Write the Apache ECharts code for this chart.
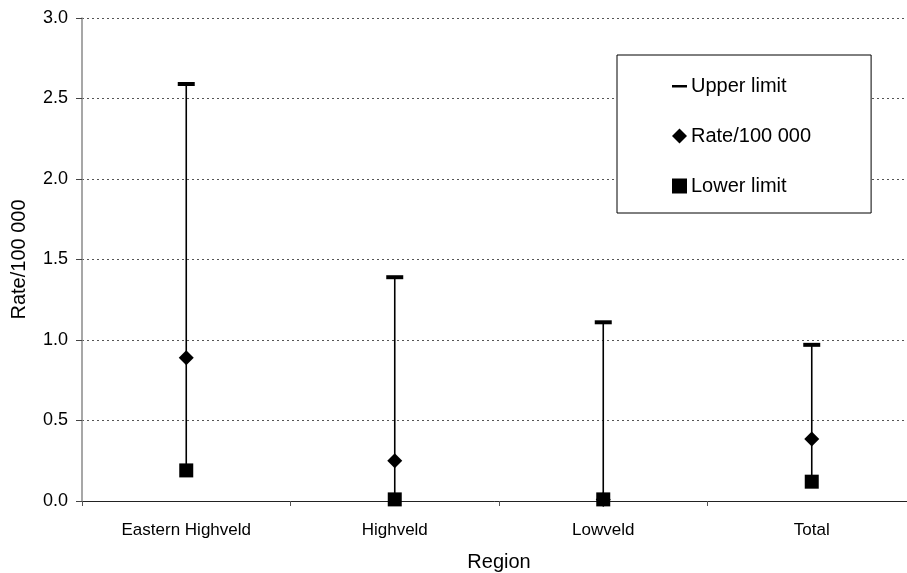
<!DOCTYPE html>
<html>
<head>
<meta charset="utf-8">
<script src="https://cdn.jsdelivr.net/npm/echarts@6/dist/echarts.min.js"></script>
<style>
  html, body { margin: 0; padding: 0; background: #fff; }
  #chart { width: 907px; height: 573px; }
</style>
</head>
<body>
<div id="chart"></div>
<script>
// Incidence rate per 100 000 with confidence limits, by region
const regions = ['Eastern Highveld', 'Highveld', 'Lowveld', 'Total'];
const upperLimit = [2.59, 1.39, 1.11, 0.97];
const rate = [0.89, 0.25, 0.01, 0.385];
const lowerLimit = [0.19, 0.01, 0.01, 0.12];
const yTicks = [0, 0.5, 1.0, 1.5, 2.0, 2.5, 3.0];

const FONT = '"Liberation Sans", Arial, sans-serif';

const chart = echarts.init(document.getElementById('chart'), null, { renderer: 'canvas' });

// high-low line from lower to upper limit for each region
const rangeData = regions.map((r, i) => [i, lowerLimit[i], upperLimit[i]]);

chart.setOption({
  backgroundColor: '#ffffff',
  animation: false,
  grid: { left: 82, top: 18, width: 834, height: 483, containLabel: false, outerBoundsMode: 'none' },
  legend: {
    orient: 'vertical',
    left: 617,
    top: 55,
    padding: [21, 60, 17, 55],
    itemGap: 30,
    itemWidth: 15,
    itemHeight: 15,
    borderColor: '#000',
    borderWidth: 1,
    backgroundColor: '#fff',
    selectedMode: false,
    textStyle: { fontFamily: FONT, fontSize: 20, color: '#000', padding: [0, 0, 0, -1] },
    data: [
      { name: 'Upper limit', icon: 'path://M0,0 M0,6.5 L15,6.5 L15,9 L0,9 Z M15,15' },
      { name: 'Rate/100 000', icon: 'diamond' },
      { name: 'Lower limit', icon: 'rect' }
    ]
  },
  xAxis: {
    type: 'category',
    data: regions,
    boundaryGap: true,
    name: 'Region',
    nameLocation: 'middle',
    nameGap: 51,
    nameTextStyle: { fontFamily: FONT, fontSize: 20, color: '#000' },
    axisLine: { lineStyle: { color: '#222', width: 1 } },
    axisTick: { show: true, length: 5, alignWithLabel: false, lineStyle: { color: '#555' } },
    axisLabel: { fontFamily: FONT, fontSize: 17, color: '#000', margin: 21, interval: 0 },
    splitLine: { show: false }
  },
  yAxis: {
    type: 'value',
    min: 0,
    max: 3,
    interval: 0.5,
    name: 'Rate/100 000',
    nameLocation: 'middle',
    nameGap: 53,
    nameRotate: 90,
    nameTextStyle: { fontFamily: FONT, fontSize: 20, color: '#000' },
    axisLine: { show: true, lineStyle: { color: '#8a8a8a', width: 1.5 } },
    axisTick: { show: true, length: 6, lineStyle: { color: '#444' } },
    axisLabel: {
      fontFamily: FONT, fontSize: 18, color: '#000', margin: 14,
      formatter: v => yTicks.includes(v) ? v.toFixed(1) : ''
    },
    splitLine: { show: true, lineStyle: { color: '#555', type: [2, 3], width: 1 } }
  },
  series: [
    {
      type: 'custom',
      name: 'range',
      silent: true,
      z: 1,
      data: rangeData,
      renderItem: (params, api) => {
        const lo = api.coord([api.value(0), api.value(1)]);
        const hi = api.coord([api.value(0), api.value(2)]);
        return {
          type: 'line',
          shape: { x1: lo[0], y1: lo[1], x2: hi[0], y2: hi[1] },
          style: { stroke: '#000', lineWidth: 1.6 }
        };
      }
    },
    {
      type: 'scatter',
      name: 'Upper limit',
      data: upperLimit,
      symbol: 'rect',
      symbolSize: [17, 4],
      itemStyle: { color: '#000', opacity: 1 },
      z: 3
    },
    {
      type: 'scatter',
      name: 'Rate/100 000',
      data: rate,
      symbol: 'diamond',
      symbolSize: [15, 15],
      itemStyle: { color: '#000', opacity: 1 },
      z: 3
    },
    {
      type: 'scatter',
      name: 'Lower limit',
      data: lowerLimit,
      symbol: 'rect',
      symbolSize: [14, 14],
      itemStyle: { color: '#000', opacity: 1 },
      z: 4
    }
  ]
});
</script>
</body>
</html>
